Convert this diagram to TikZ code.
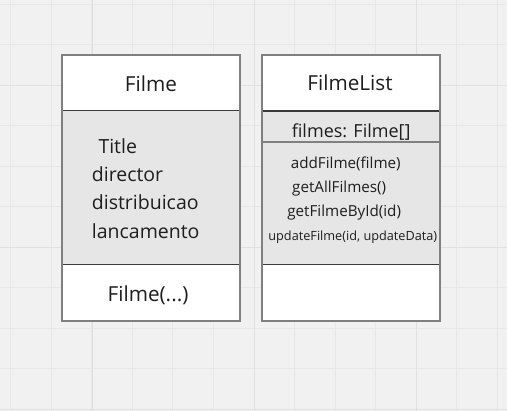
\documentclass[tikz,border=0pt]{standalone}
\usepackage{fontspec}
\setmainfont{Open Sans}
\definecolor{bgc}{HTML}{F1F1F1}
\definecolor{gridc}{HTML}{E7E7E7}
\definecolor{gridd}{HTML}{E0E0E0}
\definecolor{midc}{HTML}{E6E6E6}
\definecolor{borderc}{HTML}{808080}
\definecolor{darkdiv}{HTML}{3A3A3A}
\definecolor{textc}{HTML}{1E1E1E}
\begin{document}
\begin{tikzpicture}[x=1pt,y=-1pt,
  txt/.style={text=textc, inner sep=0pt, anchor=base},
  txtl/.style={text=textc, inner sep=0pt, anchor=base west},
  title/.style={txt, font=\fontsize{20.7}{24}\selectfont},
  attr/.style={txtl, font=\fontsize{19.5}{23}\selectfont},
  field/.style={txt, font=\fontsize{18}{21}\selectfont},
  meth/.style={txt, font=\fontsize{15.2}{18}\selectfont},
  smallmeth/.style={txt, font=\fontsize{12.7}{15}\selectfont},
  border/.style={draw=borderc, line width=1.6pt},
  darkline/.style={draw=darkdiv, line width=1pt},
  thickdark/.style={draw=darkdiv, line width=1.8pt},
  grayline/.style={draw=borderc, line width=1.5pt}]
\useasboundingbox (0,0) rectangle (507,411);
\fill[bgc] (0,0) rectangle (507,411);
\foreach \i in {0,...,12} {
  \pgfmathsetmacro{\gx}{10.7+40.55*\i}
  \draw[gridc, line width=0.9pt] (\gx,0) -- (\gx,411);
}
\foreach \i in {0,...,10} {
  \pgfmathsetmacro{\gy}{4+40.55*\i}
  \draw[gridc, line width=0.9pt] (0,\gy) -- (507,\gy);
}
\foreach \gx in {92,254,416} \draw[gridd, line width=1pt] (\gx,0) -- (\gx,411);
\foreach \gy in {85.1,247.3,409.5} \draw[gridd, line width=1pt] (0,\gy) -- (507,\gy);

% Box 1: Filme
\fill[white] (62,55) rectangle (240,111);
\fill[midc] (62,111) rectangle (240,265);
\fill[white] (62,265) rectangle (240,321);
\draw[darkline] (62,111) -- (240,111);
\draw[darkline] (62,265) -- (240,265);
\draw[border] (62,55) rectangle (240,321);
\node[title] (t1) at (151,91.5) {Filme};
\node[attr] (a1) at (98.3,153.3) {Title};
\node[attr] (a2) at (91.7,181.7) {director};
\node[attr] (a3) at (91.7,210) {distribuicao};
\node[attr] (a4) at (91.7,238.3) {lancamento};
\node[title] (c1) at (148,301.7) {Filme(...)};

% Box 2: FilmeList
\fill[white] (262,55) rectangle (440,111);
\fill[midc] (262,111) rectangle (440,265);
\fill[white] (262,265) rectangle (440,321);
\draw[thickdark] (262,111) -- (440,111);
\draw[grayline] (262,142) -- (440,142);
\draw[darkline] (262,265) -- (440,265);
\draw[border] (262,55) rectangle (440,321);
\node[title] (t2) at (350,90.7) {FilmeList};
\node[field] (f1) at (351.2,138) {filmes: Filme[]};
\node[meth] (m1) at (345.8,168.7) {addFilme(filme)};
\node[meth] (m2) at (339.2,193) {getAllFilmes()};
\node[meth] (m3) at (344.2,216.5) {getFilmeById(id)};
\node[smallmeth] (m4) at (352.8,240.5) {updateFilme(id, updateData)};
\end{tikzpicture}
\end{document}
